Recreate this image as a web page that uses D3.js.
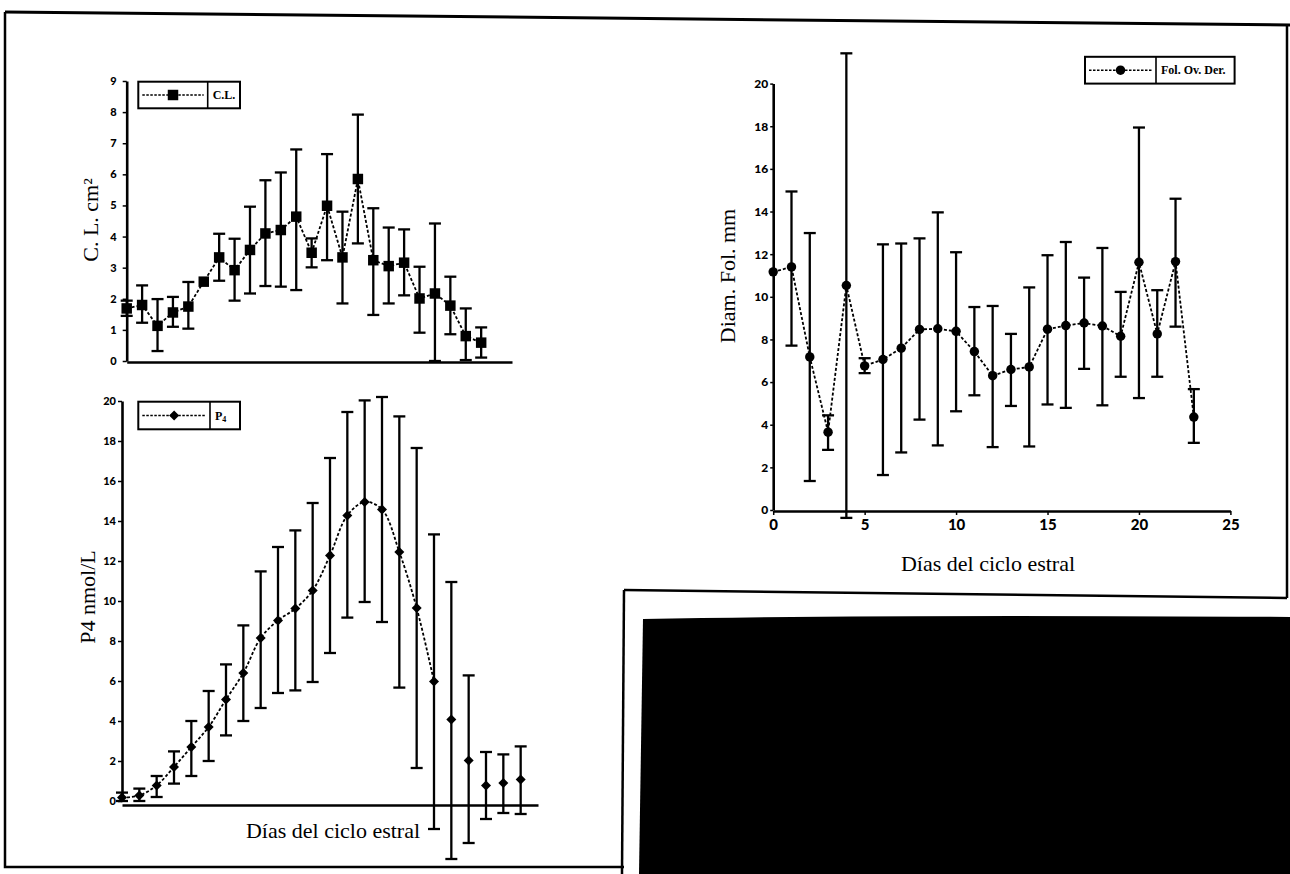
<!DOCTYPE html>
<html><head><meta charset="utf-8">
<script src="https://cdn.jsdelivr.net/npm/d3@7"></script>
<style>body{margin:0;background:#fff}svg{display:block}</style>
</head><body>
<svg id="c" width="1290" height="874"></svg>
<script>
// ---------- DATA ----------
const days = [0,1,2,3,4,5,6,7,8,9,10,11,12,13,14,15,16,17,18,19,20,21,22,23];

// Corpus luteum area (cm²)
const clMean = [1.69,1.80,1.13,1.56,1.75,2.55,3.33,2.92,3.57,4.10,4.21,4.64,3.48,4.99,3.33,5.85,3.24,3.05,3.16,2.01,2.17,1.78,0.80,0.59];
const clHigh = [1.94,2.43,1.99,2.06,2.54,2.55,4.09,3.93,4.96,5.81,6.06,6.80,3.94,6.65,4.80,7.92,4.91,4.29,4.23,3.03,4.42,2.71,1.69,1.08];
const clLow  = [1.45,1.23,0.32,1.10,1.04,2.55,2.58,1.94,2.17,2.41,2.39,2.28,3.01,3.24,1.85,3.78,1.48,1.85,2.11,0.91,0.00,0.86,0.03,0.11];
const clTicks = [0,1,2,3,4,5,6,7,8,9];

// Progesterone P4 (nmol/L)
const p4Mean = [0.17,0.28,0.78,1.70,2.70,3.70,5.08,6.40,8.15,9.03,9.62,10.53,12.28,14.28,14.95,14.58,12.45,9.65,5.98,4.07,2.03,0.78,0.90,1.07];
const p4High = [0.42,0.62,1.25,2.48,4.00,5.50,6.83,8.78,11.48,12.70,13.53,14.90,17.15,19.45,20.03,20.20,19.23,17.65,13.33,10.95,6.28,2.45,2.33,2.73];
const p4Low  = [0.00,0.00,0.20,0.87,1.25,2.00,3.28,4.00,4.65,5.40,5.53,5.95,7.40,9.17,9.95,8.95,5.67,1.65,-1.40,-2.90,-2.10,-0.90,-0.60,-0.65];
const p4LinePoints = 19; // dashed curve joins the first 19 days only
const p4Ticks = [0,2,4,6,8,10,12,14,16,18,20];

// Right ovary follicle diameter (mm)
const folMean = [11.17,11.40,7.18,3.65,10.53,6.76,7.06,7.59,8.47,8.50,8.38,7.43,6.30,6.59,6.71,8.48,8.65,8.77,8.63,8.15,11.62,8.26,11.65,4.36];
const folHigh = [11.17,14.94,12.99,4.44,21.42,7.12,12.46,12.50,12.74,13.96,12.09,9.52,9.57,8.26,10.44,11.95,12.57,10.90,12.29,10.23,17.94,10.31,14.60,5.67];
const folLow  = [11.17,7.71,1.36,2.82,-0.37,6.42,1.64,2.70,4.24,3.03,4.63,5.38,2.95,4.88,2.98,4.95,4.79,6.62,4.91,6.25,5.25,6.25,8.60,3.15];
const folYTicks = [0,2,4,6,8,10,12,14,16,18,20];
const folXTicks = [0,5,10,15,20,25];

const xTitle = "Días del ciclo estral";

// ---------- DRAW ----------
const svg = d3.select("#c");
svg.append("rect").attr("width",1290).attr("height",874).attr("fill","#fff");
const TF = "Lato, 'Open Sans', sans-serif";
const SF = "'Liberation Serif', 'DejaVu Serif', serif";

// page frame (scanned page borders)
const frame = svg.append("g").attr("stroke","#000").attr("fill","none");
frame.append("path").attr("d","M5,12 L1290,25").attr("stroke-width",3);
frame.append("path").attr("d","M5,12 L5,867 L624,867").attr("stroke-width",2.5);
frame.append("path").attr("d","M1287,25 L1287,598").attr("stroke-width",2.5);
frame.append("path").attr("d","M624,590 L1287,598").attr("stroke-width",2.5);
frame.append("path").attr("d","M624,590 L622,874").attr("stroke-width",2.5);
svg.append("path").attr("d","M643,619 Q900,614 1290,617 L1290,874 L639,874 Z").attr("fill","#000");

function panel(cfg){
  const g = svg.append("g");
  const x = d3.scaleLinear().domain(cfg.xDomain).range(cfg.xRange);
  const y = d3.scaleLinear().domain(cfg.yDomain).range(cfg.yRange);
  // y axis
  const ya = g.append("g").attr("transform",`translate(${cfg.xRange[0]},0)`)
    .call(d3.axisLeft(y).tickValues(cfg.yTicks).tickSize(cfg.yTickSize).tickPadding(cfg.yPad).tickSizeOuter(0));
  ya.select(".domain").attr("stroke-width",2.6);
  ya.selectAll(".tick line").attr("stroke-width",1.5);
  ya.selectAll("text").attr("font-family",TF).attr("font-weight",900).attr("font-size",cfg.yFont).attr("fill","#000");
  // x axis
  const xa = g.append("g").attr("transform",`translate(0,${cfg.xAxisY})`)
    .call(d3.axisBottom(x).tickValues(cfg.xTicks).tickSize(4).tickPadding(4).tickSizeOuter(0));
  xa.select(".domain").attr("stroke-width",2.6);
  xa.selectAll(".tick line").attr("stroke-width",1.5);
  xa.selectAll("text").attr("font-family",TF).attr("font-weight",900).attr("font-size",cfg.xFont).attr("fill","#000");

  const pts = days.map((d,i)=>({d, m:cfg.mean[i], hi:cfg.high[i], lo:cfg.low[i]}));
  // dashed line
  const line = d3.line().x(p=>x(p.d)).y(p=>y(p.m)).curve(cfg.curve);
  g.append("path").datum(pts.slice(0,cfg.lineCount)).attr("d",line)
    .attr("fill","none").attr("stroke","#000").attr("stroke-width",1.8).attr("stroke-dasharray","3,2");
  // error bars
  const eb = g.append("g").attr("stroke","#000").attr("stroke-width",2.3);
  pts.filter(p=>p.hi!==p.lo).forEach(p=>{
    const cx = x(p.d);
    eb.append("line").attr("x1",cx).attr("x2",cx).attr("y1",y(p.hi)).attr("y2",y(p.lo));
    eb.append("line").attr("x1",cx-6).attr("x2",cx+6).attr("y1",y(p.hi)).attr("y2",y(p.hi));
    eb.append("line").attr("x1",cx-6).attr("x2",cx+6).attr("y1",y(p.lo)).attr("y2",y(p.lo));
  });
  // markers
  g.selectAll(".mk").data(pts).join("path").attr("class","mk")
    .attr("transform",p=>`translate(${x(p.d)},${y(p.m)}) rotate(${cfg.rot})`)
    .attr("d",d3.symbol(cfg.symbol,cfg.symSize)).attr("fill","#000");
  // y title
  g.append("text").attr("transform",`translate(${cfg.yTitle[0]},${cfg.yTitle[1]}) rotate(-90)`)
    .attr("text-anchor","middle").attr("dominant-baseline","central")
    .attr("font-family",SF).attr("font-size",cfg.titleFont).attr("fill","#000").text(cfg.yLabel);
  if(cfg.xTitle){
    g.append("text").attr("x",cfg.xTitle[0]).attr("y",cfg.xTitle[1])
      .attr("text-anchor","middle").attr("dominant-baseline","central")
      .attr("font-family",SF).attr("font-size",cfg.titleFont).attr("fill","#000").text(xTitle);
  }
  // legend
  const L = cfg.legend;
  const lg = g.append("g");
  lg.append("rect").attr("x",L.x).attr("y",L.y).attr("width",L.w).attr("height",L.h)
    .attr("fill","#fff").attr("stroke","#000").attr("stroke-width",2);
  lg.append("line").attr("x1",L.div).attr("x2",L.div).attr("y1",L.y).attr("y2",L.y+L.h).attr("stroke","#000").attr("stroke-width",1.6);
  lg.append("line").attr("x1",L.x+4).attr("x2",L.div-4).attr("y1",L.y+L.h/2).attr("y2",L.y+L.h/2)
    .attr("stroke","#000").attr("stroke-width",1.5).attr("stroke-dasharray","2.5,1.5");
  lg.append("path").attr("transform",`translate(${(L.x+L.div)/2},${L.y+L.h/2}) rotate(${cfg.rot})`)
    .attr("d",d3.symbol(cfg.symbol,cfg.symSize)).attr("fill","#000");
  const lt = lg.append("text").attr("x",L.div+5).attr("y",L.y+L.h/2).attr("dominant-baseline","central")
    .attr("font-family",SF).attr("font-weight",700).attr("font-size",L.font).attr("fill","#000");
  L.text(lt);
  return {x,y};
}

// Panel 1: C.L.
panel({
  xDomain:[0,25], xRange:[126.7,512], yDomain:[0,9], yRange:[361,81],
  yTicks:clTicks, yTickSize:4, yPad:6, yFont:11, xTicks:[], xFont:10, xAxisY:362,
  mean:clMean, high:clHigh, low:clLow, lineCount:24, curve:d3.curveLinear,
  symbol:d3.symbolSquare, symSize:110, rot:0,
  yLabel:"C. L. cm²", yTitle:[90,220], titleFont:22,
  legend:{x:138.3,y:81.7,w:101.7,h:26.6,div:207.7,font:12,text:t=>t.text("C.L.")}
});

// Panel 2: P4
panel({
  xDomain:[0,24], xRange:[122,538], yDomain:[0,20], yRange:[801,401],
  yTicks:p4Ticks, yTickSize:4, yPad:2, yFont:11, xTicks:[], xFont:10, xAxisY:805,
  mean:p4Mean, high:p4High, low:p4Low, lineCount:p4LinePoints, curve:d3.curveCatmullRom.alpha(0.5),
  symbol:d3.symbolSquare, symSize:50, rot:45,
  yLabel:"P4 nmol/L", yTitle:[87,597], titleFont:22, xTitle:[333,830],
  legend:{x:138.3,y:401.7,w:101.7,h:27.6,div:210,font:12,text:t=>{t.append("tspan").text("P");t.append("tspan").attr("font-size",8).attr("dy",3).text("4");}}
});

// Panel 3: Fol. Ov. Der.
panel({
  xDomain:[0,25], xRange:[773.2,1230.4], yDomain:[0,20], yRange:[510,83.6],
  yTicks:folYTicks, yTickSize:3, yPad:2, yFont:12, xTicks:folXTicks, xFont:15, xAxisY:511,
  mean:folMean, high:folHigh, low:folLow, lineCount:24, curve:d3.curveLinear,
  symbol:d3.symbolCircle, symSize:70, rot:0,
  yLabel:"Diam. Fol. mm", yTitle:[727,276], titleFont:22, xTitle:[988,563],
  legend:{x:1085,y:56.8,w:149.6,h:26.8,div:1156,font:12,text:t=>t.text("Fol. Ov. Der.")}
});
</script>
</body></html>
